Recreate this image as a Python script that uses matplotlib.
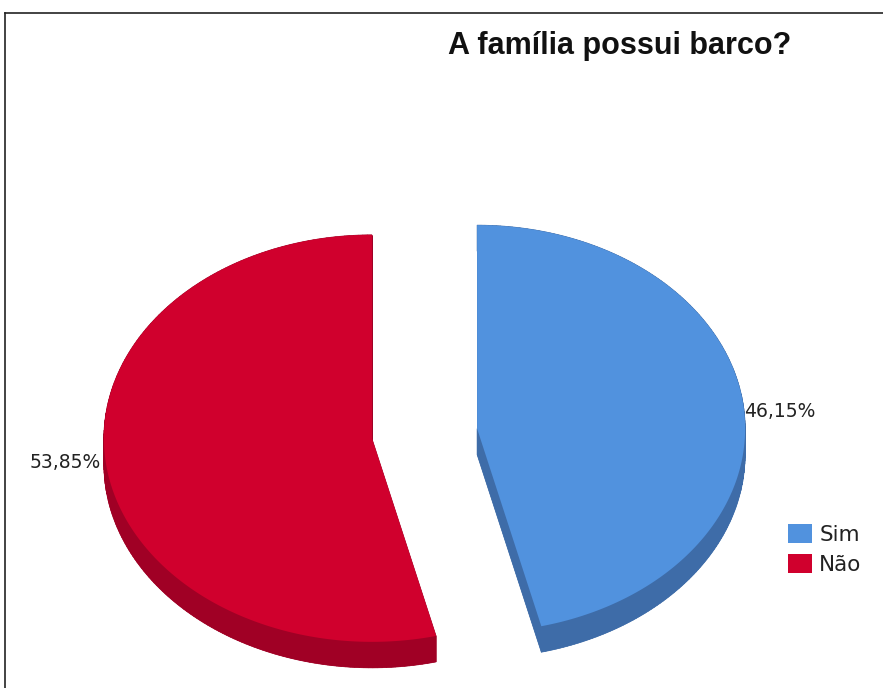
import numpy as np
import matplotlib
matplotlib.use("Agg")
import matplotlib.pyplot as plt
from matplotlib.patches import Polygon, Patch
from matplotlib.lines import Line2D

# ---- data ----
categories = ["Sim", "Não"]
values = [46.15, 53.85]
title = "A família possui barco?"

# ---- style ----
top_colors = ["#5192DE", "#D0002D"]
side_colors = ["#3E6CA8", "#A00025"]
font = ["Liberation Sans", "DejaVu Sans"]
font2 = ["DejaVu Sans"]

W, H = 883, 688
fig = plt.figure(figsize=(W / 100, H / 100), dpi=100)
ax = fig.add_axes([0, 0, 1, 1])
ax.set_xlim(0, W)
ax.set_ylim(H, 0)
ax.axis("off")

# frame
ax.add_line(Line2D([5, 5], [13, H], color="#222222", lw=1.2))
ax.add_line(Line2D([5, W], [13, 13], color="#222222", lw=1.2))

# pie geometry (pixel space)
cx, cy = 424.5, 433.5
rx, ry = 268.0, 203.5
depth = 26
explode = 53.0

total = sum(values)
start = 0.0
for i, v in enumerate(values):
    sweep = 360.0 * v / total
    t0, t1 = start, start + sweep
    mid = np.radians((t0 + t1) / 2)
    ox = cx + explode * np.sin(mid)
    oy = cy - explode * np.cos(mid) * ry / rx
    th = np.radians(np.linspace(t0, t1, 200))
    xs = ox + rx * np.sin(th)
    ys = oy - ry * np.cos(th)
    px = np.concatenate([[ox], xs])
    py = np.concatenate([[oy], ys])
    pts = np.column_stack([px, py])
    # side (extrusion)
    shifted = pts + np.array([0, depth])
    ax.add_patch(Polygon(shifted, closed=True, fc=side_colors[i], ec="none", zorder=2))
    n = len(pts)
    for k in range(n):
        a, b = pts[k], pts[(k + 1) % n]
        quad = np.array([a, b, b + [0, depth], a + [0, depth]])
        ax.add_patch(Polygon(quad, closed=True, fc=side_colors[i], ec=side_colors[i],
                             lw=0.5, zorder=2))
    ax.add_patch(Polygon(pts, closed=True, fc=top_colors[i], ec="none", zorder=3))
    start = t1

    lbl = f"{v:.2f}".replace(".", ",") + "%"
    if np.sin(mid) > 0:
        ax.text(ox + rx - 1, oy - 17, lbl, ha="left", va="center",
                fontsize=13.5, family=font2, color="#222222", zorder=5)
    else:
        ax.text(ox - rx - 3, oy + 24, lbl, ha="right", va="center",
                fontsize=13.5, family=font2, color="#222222", zorder=5)

ax.text(620, 54, title, ha="center", va="baseline", fontsize=22,
        fontweight="bold", family=font, color="#111111")

handles = [Patch(fc=top_colors[i], ec="none") for i in range(len(categories))]
leg = ax.legend(handles, categories, loc="upper left",
                bbox_to_anchor=(788 / W, 1 - 524 / H), frameon=False,
                handlelength=1.1, handleheight=0.95, handletextpad=0.35,
                labelspacing=0.45, borderaxespad=0, borderpad=0,
                prop={"family": font2, "size": 15.5})
for t in leg.get_texts():
    t.set_color("#222222")

fig.savefig("out.png", dpi=100)
